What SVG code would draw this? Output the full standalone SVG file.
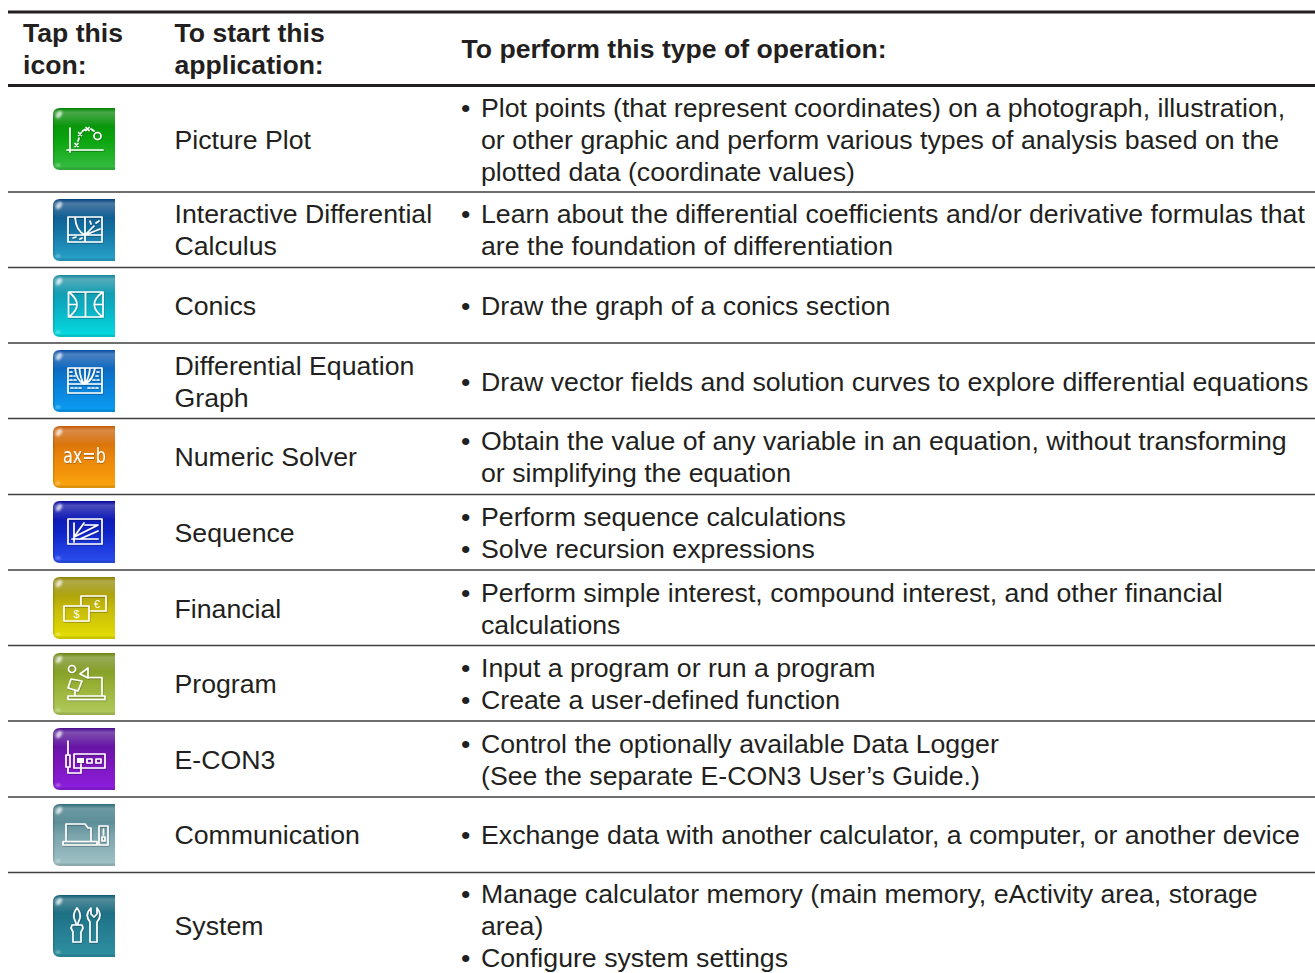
<svg xmlns="http://www.w3.org/2000/svg" xmlns:xlink="http://www.w3.org/1999/xlink" width="1315" height="973" viewBox="0 0 1315 973">
<style>
text{font-family:"Liberation Sans",Arial,Helvetica,sans-serif;font-size:26.7px;fill:#231f20}
.h{font-weight:bold;font-size:26.6px}
.rule{stroke:#404040;stroke-width:1.7;fill:none}
.thick{stroke:#231f20;stroke-width:3;fill:none}
.g{fill:none;stroke:#fff;stroke-width:1.7;stroke-linecap:round;stroke-linejoin:round;filter:url(#sh)}
.w{fill:#fff;filter:url(#sh)}
</style>
<defs>
<filter id="sh" x="-20%" y="-20%" width="140%" height="140%"><feDropShadow dx="0.4" dy="0.8" stdDeviation="0.5" flood-color="#000" flood-opacity=".35"/></filter>
<filter id="bl" x="-60%" y="-60%" width="220%" height="220%"><feGaussianBlur stdDeviation="1.2"/></filter>
<clipPath id="ic"><path d="M7 0H62V62H7Q0 62 0 55V7Q0 0 7 0Z"/></clipPath>
<linearGradient id="gloss" x1="0" y1="0" x2="0" y2="1"><stop offset="0" stop-color="#fff" stop-opacity="0"/><stop offset=".07" stop-color="#fff" stop-opacity=".28"/><stop offset=".3" stop-color="#fff" stop-opacity=".03"/><stop offset="1" stop-color="#fff" stop-opacity="0"/></linearGradient>
<linearGradient id="c1" x1="0" y1="0" x2="0" y2="1"><stop offset="0" stop-color="#008000"/><stop offset=".5" stop-color="#04a208"/><stop offset="1" stop-color="#38be44"/></linearGradient>
<linearGradient id="c2" x1="0" y1="0" x2="0" y2="1"><stop offset="0" stop-color="#033f7c"/><stop offset=".5" stop-color="#0e6fa0"/><stop offset="1" stop-color="#28a4cb"/></linearGradient>
<linearGradient id="c3" x1="0" y1="0" x2="0" y2="1"><stop offset="0" stop-color="#13869b"/><stop offset=".5" stop-color="#05abc0"/><stop offset="1" stop-color="#05dde2"/></linearGradient>
<linearGradient id="c4" x1="0" y1="0" x2="0" y2="1"><stop offset="0" stop-color="#074aa3"/><stop offset=".5" stop-color="#0578d2"/><stop offset="1" stop-color="#0a9ef5"/></linearGradient>
<linearGradient id="c5" x1="0" y1="0" x2="0" y2="1"><stop offset="0" stop-color="#c45802"/><stop offset=".5" stop-color="#ea8204"/><stop offset="1" stop-color="#fba60c"/></linearGradient>
<linearGradient id="c6" x1="0" y1="0" x2="0" y2="1"><stop offset="0" stop-color="#03039c"/><stop offset=".5" stop-color="#0a20c8"/><stop offset="1" stop-color="#2c50f0"/></linearGradient>
<linearGradient id="c7" x1="0" y1="0" x2="0" y2="1"><stop offset="0" stop-color="#8a8000"/><stop offset=".5" stop-color="#c4b806"/><stop offset="1" stop-color="#e6e000"/></linearGradient>
<linearGradient id="c8" x1="0" y1="0" x2="0" y2="1"><stop offset="0" stop-color="#6a8510"/><stop offset=".5" stop-color="#94ae30"/><stop offset="1" stop-color="#b2cb5e"/></linearGradient>
<linearGradient id="c9" x1="0" y1="0" x2="0" y2="1"><stop offset="0" stop-color="#470a8c"/><stop offset=".5" stop-color="#7510b4"/><stop offset="1" stop-color="#8e1fe0"/></linearGradient>
<linearGradient id="c10" x1="0" y1="0" x2="0" y2="1"><stop offset="0" stop-color="#2b6b78"/><stop offset=".5" stop-color="#78a2aa"/><stop offset="1" stop-color="#a2c4c8"/></linearGradient>
<linearGradient id="c11" x1="0" y1="0" x2="0" y2="1"><stop offset="0" stop-color="#0b5a70"/><stop offset=".5" stop-color="#1f788d"/><stop offset="1" stop-color="#2f91a2"/></linearGradient>
<g id="sheen"><rect width="62" height="62" fill="url(#gloss)"/><ellipse cx="6" cy="6.500" rx="2.500" ry="4" fill="#fff" opacity=".75" transform="rotate(35 6 6.500)" filter="url(#bl)"/><ellipse cx="5" cy="57" rx="2.500" ry="1.500" fill="#fff" opacity=".4" filter="url(#bl)"/><rect y="59.500" width="62" height="2.500" fill="#000" opacity=".12"/><rect width="1.500" height="62" fill="#000" opacity=".12"/></g>
</defs>

<g id="connectors">
<path class="thick" d="M8 12H1315M8 85.500H1315"/>
<path class="rule" d="M8 192H1315M8 267.500H1315M8 343H1315M8 418.500H1315M8 494.500H1315M8 570H1315M8 645.500H1315M8 721H1315M8 797H1315M8 872.500H1315"/>
</g>

<g id="header">
<text class="h" x="23" y="42">Tap this</text><text class="h" x="23" y="74">icon:</text>
<text class="h" x="174.500" y="42">To start this</text><text class="h" x="174.500" y="74">application:</text>
<text class="h" x="461.500" y="58">To perform this type of operation:</text>
</g>

<g id="row-picture-plot">
<g transform="translate(53 108)"><g clip-path="url(#ic)"><rect width="62" height="62" fill="url(#c1)"/><use xlink:href="#sheen"/></g>
<path class="g" d="M17 20V44M14 42H50M22 35.500l3 3m0-3l-3 3M25.500 24.500l3 3m0-3l-3 3M33 19.500l3 3m0-3l-3 3M25 33l1-3M29.500 23l2.500-1.500M38 21l3 2"/><circle class="g" cx="44.500" cy="28" r="3.500"/></g>
<text x="174.500" y="149">Picture Plot</text>
<text x="461" y="117">•</text><text x="481" y="117">Plot points (that represent coordinates) on a photograph, illustration,</text>
<text x="481" y="149">or other graphic and perform various types of analysis based on the</text>
<text x="481" y="181">plotted data (coordinate values)</text>
</g>

<g id="row-interactive-differential-calculus">
<g transform="translate(53 199)"><g clip-path="url(#ic)"><rect width="62" height="62" fill="url(#c2)"/><use xlink:href="#sheen"/></g>
<path class="g" d="M15 18H49V43H15ZM32 18V43M15 36H49M22 18Q23 32 32 36M32 36L41 27M32 36L47 30M20 39l3-1M27 40l2-1M43 24l3-2M37 22l1 3"/></g>
<text x="174.500" y="223">Interactive Differential</text><text x="174.500" y="255">Calculus</text>
<text x="461" y="223">•</text><text x="481" y="223">Learn about the differential coefficients and/or derivative formulas that</text>
<text x="481" y="255">are the foundation of differentiation</text>
</g>

<g id="row-conics">
<g transform="translate(53 275)"><g clip-path="url(#ic)"><rect width="62" height="62" fill="url(#c3)"/><use xlink:href="#sheen"/></g>
<path class="g" d="M15.500 17H50V42H15.500ZM32.500 17V42M15.500 29.500H23M42 29.500H50M17 18Q31 29.500 17 41M48.500 18Q34 29.500 48.500 41"/></g>
<text x="174.500" y="315">Conics</text>
<text x="461" y="315">•</text><text x="481" y="315">Draw the graph of a conics section</text>
</g>

<g id="row-differential-equation-graph">
<g transform="translate(53 350)"><g clip-path="url(#ic)"><rect width="62" height="62" fill="url(#c4)"/><use xlink:href="#sheen"/></g>
<path class="g" d="M15 18H49V43H15ZM22 18Q23 30 31 34M26.500 18Q27 28 31 34M32 18V34M37 18Q36 28 32 34M42 18Q40 30 32 34M15 34H49"/><path class="g" stroke-dasharray="2 2" d="M17 22H21M17 26H22M17 30H24M44 22H47M43 26H47M40 30H47M18 38H28M35 38H46"/></g>
<text x="174.500" y="375">Differential Equation</text><text x="174.500" y="407">Graph</text>
<text x="461" y="391">•</text><text x="481" y="391">Draw vector fields and solution curves to explore differential equations</text>
</g>

<g id="row-numeric-solver">
<g transform="translate(53 426)"><g clip-path="url(#ic)"><rect width="62" height="62" fill="url(#c5)"/><use xlink:href="#sheen"/></g>
<text class="w" x="10" y="37" style="font-size:21px;fill:#fff;font-family:'DejaVu Sans',sans-serif" textLength="43" lengthAdjust="spacingAndGlyphs">ax=b</text></g>
<text x="174.500" y="466">Numeric Solver</text>
<text x="461" y="450">•</text><text x="481" y="450">Obtain the value of any variable in an equation, without transforming</text>
<text x="481" y="482">or simplifying the equation</text>
</g>

<g id="row-sequence">
<g transform="translate(53 501)"><g clip-path="url(#ic)"><rect width="62" height="62" fill="url(#c6)"/><use xlink:href="#sheen"/></g>
<path class="g" d="M15 18H49V43H15ZM21 41V22M19 38H45M21 36L31 22M21 36L45 24H32M27 38L45 30"/></g>
<text x="174.500" y="542">Sequence</text>
<text x="461" y="526">•</text><text x="481" y="526">Perform sequence calculations</text>
<text x="461" y="558">•</text><text x="481" y="558">Solve recursion expressions</text>
</g>

<g id="row-financial">
<g transform="translate(53 577)"><g clip-path="url(#ic)"><rect width="62" height="62" fill="url(#c7)"/><use xlink:href="#sheen"/></g>
<path class="g" d="M28 28V19H53V34H37"/><path class="g" d="M11 29H36V44H11Z"/>
<text x="23.500" y="41" text-anchor="middle" style="font-size:11px;fill:#fff">$</text><text x="44" y="31" text-anchor="middle" style="font-size:11px;fill:#fff">€</text></g>
<text x="174.500" y="618">Financial</text>
<text x="461" y="602">•</text><text x="481" y="602">Perform simple interest, compound interest, and other financial</text>
<text x="481" y="634">calculations</text>
</g>

<g id="row-program">
<g transform="translate(53 653)"><g clip-path="url(#ic)"><rect width="62" height="62" fill="url(#c8)"/><use xlink:href="#sheen"/></g>
<circle class="g" cx="19" cy="16" r="3.500"/><path class="g" d="M27 21L35 15V25ZM15 43H52V46.500H15ZM35 24.500H49V43M22 43V38M29 28L25 38L15 35L18 26Z"/></g>
<text x="174.500" y="693">Program</text>
<text x="461" y="677">•</text><text x="481" y="677">Input a program or run a program</text>
<text x="461" y="709">•</text><text x="481" y="709">Create a user-defined function</text>
</g>

<g id="row-e-con3">
<g transform="translate(53 728)"><g clip-path="url(#ic)"><rect width="62" height="62" fill="url(#c9)"/><use xlink:href="#sheen"/></g>
<path class="g" d="M15 13V27M13 27H17V39H13ZM21 26H52V40H21ZM15 39V45H28V33M34 31H39V35H34ZM43 31H48V35H43Z"/><rect class="w" x="24" y="30" width="7" height="5"/></g>
<text x="174.500" y="769">E-CON3</text>
<text x="461" y="753">•</text><text x="481" y="753">Control the optionally available Data Logger</text>
<text x="481" y="785">(See the separate E-CON3 User’s Guide.)</text>
</g>

<g id="row-communication">
<g transform="translate(53 804)"><g clip-path="url(#ic)"><rect width="62" height="62" fill="url(#c10)"/><use xlink:href="#sheen"/></g>
<path class="g" d="M13 37V20H32L35 24H38V37M10 37.500H44V41H10ZM46 22H55V41H46Z"/><path class="g" d="M49 33H52V37H49ZM50.500 25V31"/></g>
<text x="174.500" y="844">Communication</text>
<text x="461" y="844">•</text><text x="481" y="844">Exchange data with another calculator, a computer, or another device</text>
</g>

<g id="row-system">
<g transform="translate(53 895)"><g clip-path="url(#ic)"><rect width="62" height="62" fill="url(#c11)"/><use xlink:href="#sheen"/></g>
<path class="g" d="M24 13Q20 18 21 23L23 28V30H19L18 33L20 37V47H28V37L30 33L29 30H25V28L27 23Q28 18 24 13ZM19 30H29"/><path class="g" d="M38 13Q31 20 37 27V47H44V27Q50 20 44 13V19L41 22L38 19Z"/></g>
<text x="174.500" y="935">System</text>
<text x="461" y="903">•</text><text x="481" y="903">Manage calculator memory (main memory, eActivity area, storage</text>
<text x="481" y="935">area)</text>
<text x="461" y="967">•</text><text x="481" y="967">Configure system settings</text>
</g>
</svg>
